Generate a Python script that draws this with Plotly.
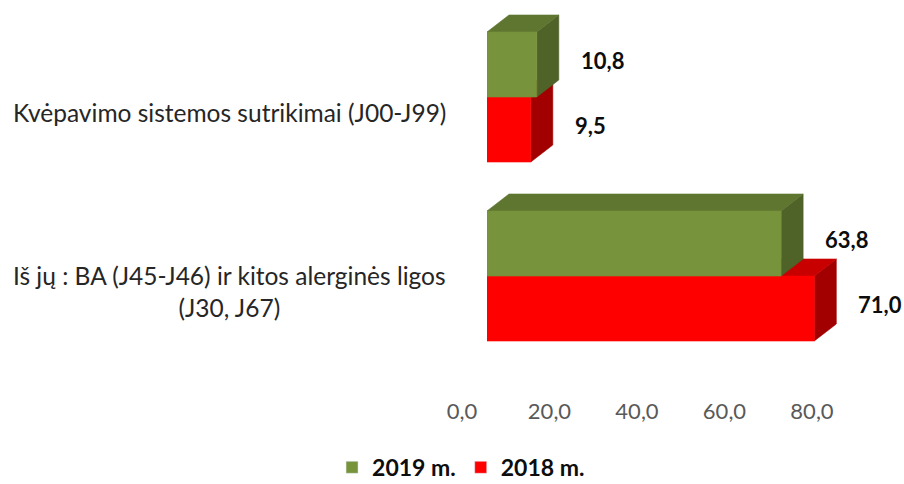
import plotly.graph_objects as go

categories = [
    "Kvėpavimo sistemos sutrikimai (J00-J99)",
    "Iš jų : BA (J45-J46) ir kitos alerginės ligos<br>(J30, J67)",
]
series_names = ["2019 m.", "2018 m."]
values_2019 = [10.8, 63.8]
values_2018 = [9.5, 71.0]
x_ticks = [0, 20, 40, 60, 80]

W, H = 904, 484
FONT = "Lato, Calibri, sans-serif"

# geometry of the fake 3D bars (axis units)
PX_PER_UNIT = 4.61
X0_PX = 487
CAT_PX = 179
CAT0_PX = 97
BAR_W = 65 / CAT_PX
DX = 22 / PX_PER_UNIT
DY = 17 / CAT_PX

COLORS = {
    "2019 m.": ("#77933C", "#5F7630", "#4F6228"),
    "2018 m.": ("#FF0000", "#C80000", "#A20000"),
}


def face_paths(values, above):
    front, top, side = ([], []), ([], []), ([], [])
    for i, v in enumerate(values):
        y0 = i - BAR_W if above else i
        y1 = y0 + BAR_W
        for path, xs, ys in (
            (front, [0, v, v, 0, 0], [y0, y0, y1, y1, y0]),
            (top, [0, v, v + DX, DX, 0], [y0, y0, y0 - DY, y0 - DY, y0]),
            (side, [v, v + DX, v + DX, v, v], [y0, y0 - DY, y1 - DY, y1, y0]),
        ):
            path[0].extend(xs + [None])
            path[1].extend(ys + [None])
    return front, top, side


fig = go.Figure()

# red series is drawn first, green sits on top of it
for name, values, above in (("2018 m.", values_2018, False), ("2019 m.", values_2019, True)):
    front, top, side = face_paths(values, above)
    for (xs, ys), color in zip((side, top, front), COLORS[name][::-1]):
        fig.add_trace(go.Scatter(
            x=xs, y=ys, mode="lines", fill="toself", fillcolor=color,
            line={"color": color, "width": 0.6}, showlegend=False, hoverinfo="skip",
        ))

# legend entries
for name in series_names:
    fig.add_trace(go.Bar(x=[None], y=[None], name=name, marker_color=COLORS[name][0], orientation="h"))

# data labels
for values, above in ((values_2019, True), (values_2018, False)):
    for i, v in enumerate(values):
        yc = i - BAR_W / 2 if above else i + BAR_W / 2
        fig.add_annotation(
            x=v, y=yc - 0.02, xref="x", yref="y", text=f"{v:.1f}".replace(".", ","),
            showarrow=False, xanchor="left", yanchor="middle", xshift=42,
            font={"family": FONT, "size": 22, "color": "#0D0D0D", "weight": "bold"},
        )

# category labels
for i, label in enumerate(categories):
    fig.add_annotation(
        x=448 / W, y=i + 0.085, xref="paper", yref="y", text=label, showarrow=False,
        xanchor="right", yanchor="middle", align="center",
        font={"family": FONT, "size": 24.5, "color": "#262626"},
    )

# value axis shown in the "front" plane
fig.add_trace(go.Scatter(x=[None], y=[None], xaxis="x2", yaxis="y2", showlegend=False, hoverinfo="skip"))

axis_pos = 1 - 396 / H
fig.update_layout(
    width=W, height=H,
    margin={"l": 0, "r": 0, "t": 0, "b": 0, "autoexpand": False},
    paper_bgcolor="white", plot_bgcolor="rgba(0,0,0,0)",
    separators=", ",
    barmode="overlay",
    xaxis={"domain": [X0_PX / W, (X0_PX + 85 * PX_PER_UNIT) / W], "range": [0, 85], "visible": False},
    yaxis={"domain": [0, 1], "range": [(H - CAT0_PX) / CAT_PX, -CAT0_PX / CAT_PX], "visible": False},
    xaxis2={
        "domain": [462 / W, 812 / W], "range": [0, 80], "anchor": "y2",
        "tickvals": x_ticks, "tickformat": ".1f", "showgrid": False, "zeroline": False,
        "showline": False, "ticks": "", "tickfont": {"family": FONT, "size": 22, "color": "#595959"},
    },
    yaxis2={"domain": [axis_pos, axis_pos + 0.01], "visible": False},
    legend={
        "orientation": "h", "x": 0.51, "y": -0.01, "xanchor": "center", "yanchor": "bottom",
        "font": {"family": FONT, "size": 23, "color": "#0D0D0D", "weight": "bold"},
        "traceorder": "normal",
    },
    showlegend=True,
)

# the page body has a default 8px margin; drop it so the figure fills the window
fig.write_html(
    "out.html",
    config={"displayModeBar": False},
    post_script="document.body.style.margin = '0';",
)
